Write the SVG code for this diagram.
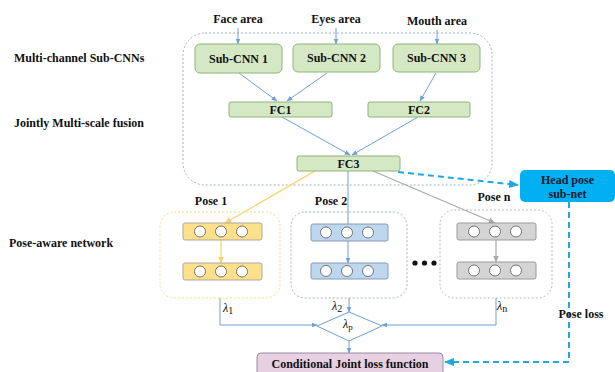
<svg xmlns="http://www.w3.org/2000/svg" width="615" height="372" viewBox="0 0 615 372">
<defs>
<style>
text{font-family:"Liberation Serif","Times New Roman",serif;fill:#111}
.b{font-weight:bold;font-size:12px}
.lab{font-weight:bold;font-size:12px}
.g{fill:#d5e8c4;stroke:#8fb47a;stroke-width:1}
.blu{stroke:#6f9fd8;stroke-width:1;fill:none}
.circ{fill:#fff;stroke:#555;stroke-width:0.8}
.yb{fill:#ffe08a;stroke:#a8a8a8;stroke-width:1}
.bb{fill:#bdd7ee;stroke:#8a9ab0;stroke-width:1}
.gb{fill:#d4d4d4;stroke:#9a9a9a;stroke-width:1}
.dash{stroke:#1ea7e0;stroke-width:2;stroke-dasharray:6,4;fill:none}
.lam{font-size:12px;font-style:italic}
</style>
<marker id="ab" viewBox="0 0 10 10" refX="9" refY="5" markerWidth="6" markerHeight="6" orient="auto"><path d="M0,1 L10,5 L0,9 z" fill="#6f9fd8"/></marker>
<marker id="ay" viewBox="0 0 10 10" refX="9" refY="5" markerWidth="6" markerHeight="6" orient="auto"><path d="M0,1 L10,5 L0,9 z" fill="#f3d36a"/></marker>
<marker id="ag" viewBox="0 0 10 10" refX="9" refY="5" markerWidth="6" markerHeight="6" orient="auto"><path d="M0,1 L10,5 L0,9 z" fill="#aaaaaa"/></marker>
<marker id="ac" viewBox="0 0 10 10" refX="9" refY="5" markerWidth="5" markerHeight="5" orient="auto"><path d="M0,1 L10,5 L0,9 z" fill="#1ea7e0"/></marker>
</defs>
<rect width="615" height="372" fill="#fff"/>

<!-- side labels -->
<text class="lab" x="14" y="62">Multi-channel Sub-CNNs</text>
<text class="lab" x="14" y="127">Jointly Multi-scale fusion</text>
<text class="lab" x="9" y="247">Pose-aware network</text>

<!-- containers -->
<rect x="183" y="33" width="309" height="152" rx="22" fill="none" stroke="#8aa0bd" stroke-width="0.8" stroke-dasharray="2,2"/>
<rect x="160" y="212" width="120" height="86" rx="14" fill="none" stroke="#f3d36a" stroke-width="0.8" stroke-dasharray="2,2"/>
<rect x="291" y="212" width="116" height="86" rx="14" fill="none" stroke="#8aa0bd" stroke-width="0.8" stroke-dasharray="2,2"/>
<rect x="440" y="210" width="112" height="88" rx="14" fill="none" stroke="#aaaaaa" stroke-width="0.8" stroke-dasharray="2,2"/>

<!-- input labels -->
<text class="b" x="238" y="23" text-anchor="middle">Face area</text>
<text class="b" x="336" y="23" text-anchor="middle">Eyes area</text>
<text class="b" x="437" y="25" text-anchor="middle">Mouth area</text>

<g id="connectors">
<line class="blu" x1="238" y1="28" x2="238" y2="44" marker-end="url(#ab)"/>
<line class="blu" x1="336" y1="28" x2="336" y2="44" marker-end="url(#ab)"/>
<line class="blu" x1="437" y1="30" x2="437" y2="44" marker-end="url(#ab)"/>
<line class="blu" x1="239" y1="73" x2="277" y2="101" marker-end="url(#ab)"/>
<line class="blu" x1="327" y1="73" x2="287" y2="101" marker-end="url(#ab)"/>
<line class="blu" x1="436" y1="73" x2="420" y2="101" marker-end="url(#ab)"/>
<line class="blu" x1="282" y1="117" x2="350" y2="155" marker-end="url(#ab)"/>
<line class="blu" x1="418" y1="117" x2="352" y2="155" marker-end="url(#ab)"/>
<line x1="315" y1="171" x2="225" y2="223" stroke="#f3d36a" stroke-width="1.2" marker-end="url(#ay)"/>
<line class="blu" x1="348" y1="171" x2="348" y2="224"/>
<line x1="373" y1="171" x2="495" y2="223" stroke="#aaaaaa" stroke-width="1.2" marker-end="url(#ag)"/>
<line class="dash" x1="398" y1="172" x2="518" y2="185" marker-end="url(#ac)"/>
<line x1="221" y1="240" x2="221" y2="263" stroke="#f3d36a" stroke-width="1.2" marker-end="url(#ay)"/>
<line class="blu" x1="348" y1="241" x2="348" y2="263" marker-end="url(#ab)"/>
<line x1="496" y1="240" x2="496" y2="262" stroke="#aaaaaa" stroke-width="1.2" marker-end="url(#ag)"/>
<polyline class="blu" points="220,298 220,325 317,325" marker-end="url(#ab)"/>
<line class="blu" x1="349" y1="298" x2="349" y2="312" marker-end="url(#ab)"/>
<polyline class="blu" points="496,298 496,325 382,325" marker-end="url(#ab)"/>
<line class="blu" x1="349" y1="340" x2="349" y2="353" marker-end="url(#ab)"/>
<polyline class="dash" points="569,202 569,362 445,362" marker-end="url(#ac)"/>
</g>

<g id="sub-cnn-1"><rect class="g" x="195" y="44" width="87" height="29" rx="5"/><text class="b" x="238.5" y="63" text-anchor="middle">Sub-CNN 1</text></g>
<g id="sub-cnn-2"><rect class="g" x="293" y="44" width="87" height="28" rx="5"/><text class="b" x="336.5" y="62" text-anchor="middle">Sub-CNN 2</text></g>
<g id="sub-cnn-3"><rect class="g" x="393" y="44" width="87" height="28" rx="5"/><text class="b" x="436.5" y="62" text-anchor="middle">Sub-CNN 3</text></g>
<g id="fc1"><rect class="g" x="229" y="102" width="103" height="15" rx="2"/><text class="b" x="280.5" y="114" text-anchor="middle">FC1</text></g>
<g id="fc2"><rect class="g" x="368" y="102" width="102" height="15" rx="2"/><text class="b" x="419" y="114" text-anchor="middle">FC2</text></g>
<g id="fc3"><rect class="g" x="297" y="156" width="103" height="15" rx="2"/><text class="b" x="348.5" y="168" text-anchor="middle">FC3</text></g>

<g id="head-pose"><rect x="520" y="170" width="95" height="32" rx="5" fill="#00b0f0"/><text class="b" x="567.5" y="184" text-anchor="middle" style="fill:#101830">Head pose</text><text class="b" x="567.5" y="198" text-anchor="middle" style="fill:#101830">sub-net</text></g>

<g id="pose-1">
<text class="b" x="211" y="205" text-anchor="middle">Pose 1</text>
<rect class="yb" x="183" y="223" width="79" height="17" rx="2"/>
<circle class="circ" cx="200" cy="231.5" r="5.5"/><circle class="circ" cx="221" cy="231.5" r="5.5"/><circle class="circ" cx="242" cy="231.5" r="5.5"/>
<rect class="yb" x="183" y="263" width="79" height="17" rx="2"/>
<circle class="circ" cx="200" cy="271.5" r="5.5"/><circle class="circ" cx="221" cy="271.5" r="5.5"/><circle class="circ" cx="242" cy="271.5" r="5.5"/>
</g>
<g id="pose-2">
<text class="b" x="331" y="205" text-anchor="middle">Pose 2</text>
<rect class="bb" x="311" y="224" width="77" height="17" rx="2"/>
<circle class="circ" cx="326" cy="232.5" r="5.5"/><circle class="circ" cx="347" cy="232.5" r="5.5"/><circle class="circ" cx="368" cy="232.5" r="5.5"/>
<rect class="bb" x="311" y="263" width="77" height="16" rx="2"/>
<circle class="circ" cx="326" cy="271" r="5.5"/><circle class="circ" cx="347" cy="271" r="5.5"/><circle class="circ" cx="368" cy="271" r="5.5"/>
</g>
<g id="pose-n">
<text class="b" x="494" y="201" text-anchor="middle">Pose n</text>
<rect class="gb" x="457" y="223" width="79" height="17" rx="2"/>
<circle class="circ" cx="474" cy="231.5" r="5.5"/><circle class="circ" cx="495" cy="231.5" r="5.5"/><circle class="circ" cx="516" cy="231.5" r="5.5"/>
<rect class="gb" x="457" y="262" width="79" height="17" rx="2"/>
<circle class="circ" cx="474" cy="270.5" r="5.5"/><circle class="circ" cx="495" cy="270.5" r="5.5"/><circle class="circ" cx="516" cy="270.5" r="5.5"/>
</g>
<g id="ellipsis"><circle cx="415" cy="263" r="2.6" fill="#111"/><circle cx="424.5" cy="263" r="2.6" fill="#111"/><circle cx="434" cy="263" r="2.6" fill="#111"/></g>

<text x="223" y="312" class="lam">λ<tspan font-style="normal" font-size="10" dy="2">1</tspan></text>
<text x="332" y="310" class="lam">λ<tspan font-style="normal" font-size="10" dy="2">2</tspan></text>
<text x="497" y="310" class="lam">λ<tspan font-style="normal" font-size="10" dy="2">n</tspan></text>

<g id="lambda-p"><polygon points="317,326 349,312 382,326 349,341" fill="#fff" stroke="#6f9fd8" stroke-width="1"/><text x="343" y="328" class="lam">λ<tspan font-style="normal" font-size="9" dy="2">p</tspan></text></g>

<text class="b" x="581" y="318" text-anchor="middle">Pose loss</text>

<g id="loss"><rect x="257" y="353" width="186" height="24" rx="4" fill="#e6d0e2" stroke="#9a8aa6" stroke-width="1"/><text class="b" x="350" y="368" text-anchor="middle">Conditional Joint loss function</text></g>
</svg>
